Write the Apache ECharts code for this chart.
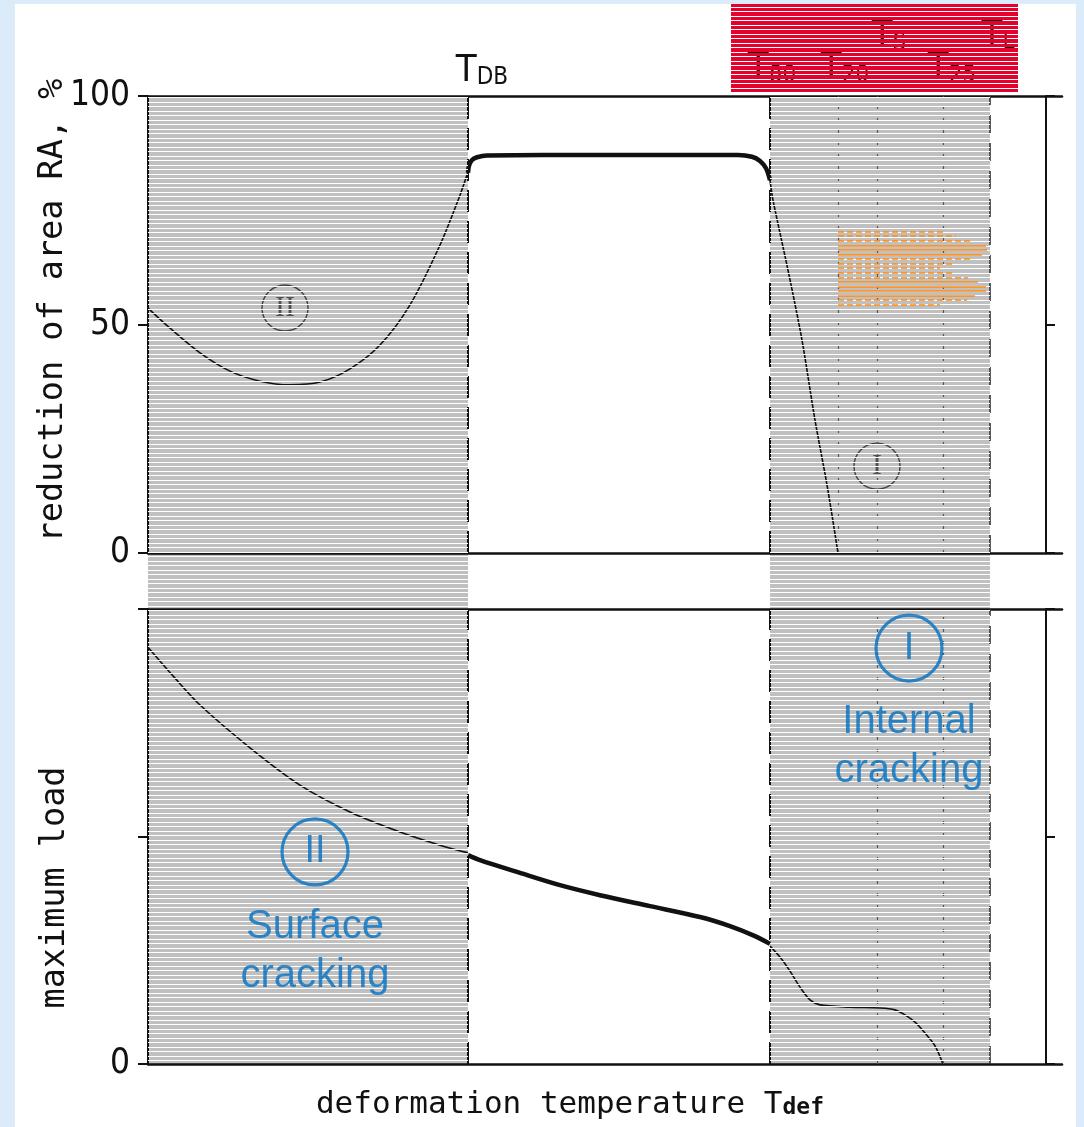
<!DOCTYPE html>
<html>
<head>
<meta charset="utf-8">
<script src="https://cdn.jsdelivr.net/npm/echarts/dist/echarts.min.js"></script>
<style>
  html, body { margin: 0; padding: 0; background: #dcebfa; }
  #sheet { position: absolute; left: 15px; top: 4px; width: 1061px; height: 1123px; background: #ffffff; }
  #chart { position: absolute; left: 0; top: 0; width: 1084px; height: 1127px; }
</style>
</head>
<body>
<div id="sheet"></div>
<div id="chart"></div>
<script>
// ---- data -----------------------------------------------------------------
// x runs along the deformation temperature (arbitrary units, 0..914)
const X_MAX = 914;

// characteristic temperatures marked by vertical lines
const tempNames = ['DB', '80', '20', 'S', '25', 'L'];
const tempX = [320, 622, 690, 729, 795, 842];

// temperature ranges of the two cracking modes (shaded)
const crackZones = [[0, 320], [622, 842]];

// reduction of area RA, % (upper panel)
const raSurface = [[0, 53.6], [22, 49.2], [52, 43.8], [82, 39.8], [112, 37.6], [142, 36.8],
  [172, 37.4], [202, 40.3], [232, 45.5], [262, 54.3], [292, 67.4], [312, 78.3], [320, 83.4]];
const raDuctile = [[320, 83.2], [321, 84.7], [324, 86.0], [329, 86.6], [339, 87.0], [450, 87.1],
  [590, 87.1], [604, 86.7], [612, 85.8], [618, 84.2], [622, 81.6]];
const raInternal = [[622, 81.6], [625, 77.2], [640, 61.9], [654, 46.6], [667, 29.1], [679, 14.9], [690, 0]];
const raTicks = [0, 50, 100];

// maximum load (lower panel, relative)
const loadSurface = [[0, 91.6], [27, 84.8], [52, 78.9], [102, 69.5], [152, 61.3], [202, 55.4],
  [252, 51.0], [292, 48.1], [320, 46.4]];
const loadDuctile = [[320, 45.9], [332, 44.8], [372, 42.0], [412, 39.3], [452, 37.1], [502, 34.7],
  [552, 32.3], [582, 30.3], [607, 28.1], [622, 26.4]];
const loadInternal = [[622, 25.9], [632, 23.5], [642, 20.4], [652, 16.9], [662, 14.1], [672, 13.0],
  [702, 12.5], [732, 12.3], [747, 11.9], [757, 10.8], [767, 9.2], [777, 6.8], [787, 4.0], [795, 0]];

// circled mode numbers in the RA panel: [x, RA, numeral]
const raModeMarks = [[137, 53.6, 'II'], [729, 19.0, 'I']];

// arrow made of hatch rows: [RA level, end x, solid?]
const arrowStartX = 690;
const arrowRows = [
  [70.2, 795, 0], [69.4, 808, 0], [68.3, 822, 0], [67.2, 838, 1], [66.3, 839, 1], [65.2, 834, 1],
  [64.3, 822, 0], [63.2, 807, 0], [62.4, 792, 0],
  [61.3, 807, 0], [60.2, 820, 0], [59.3, 830, 1], [58.2, 838, 1], [57.3, 838, 1], [56.2, 827, 1],
  [55.4, 819, 0], [54.3, 792, 0]
];

// annotations in the load panel: [x, load, text]
const loadModeCircles = [[761, 91.4, 'I'], [167, 46.6, 'II']];
const loadModeTexts = [[761, 69.8, 'Internal\ncracking'], [167, 24.8, 'Surface\ncracking']];

// ---- styles ---------------------------------------------------------------
const INK = '#111111';
const BLUE = '#006fc0';
const MONO = '"DejaVu Sans Mono", monospace';
const COND = '"DejaVu Sans Condensed", "Liberation Sans Narrow", "DejaVu Sans", sans-serif';
const SANS = '"Liberation Sans", Arial, sans-serif';

// horizontal ruling: rows of one colour with thin gaps every ~4.5 px
function ruling(rowColor, gapColor) {
  const c = document.createElement('canvas');
  c.width = 8; c.height = 9;
  const g = c.getContext('2d');
  if (rowColor) { g.fillStyle = rowColor; g.fillRect(0, 0, 8, 9); }
  if (gapColor) {
    g.fillStyle = gapColor; g.fillRect(0, 3, 8, 1); g.fillRect(0, 7, 8, 1);
  } else {
    g.clearRect(0, 3, 8, 1); g.clearRect(0, 7, 8, 1);
  }
  return { image: c, repeat: 'repeat' };
}
const whiteRules = ruling(null, '#ffffff');
const redRules = ruling('#e3022c', null);

const frameLine = { show: true, onZero: false, lineStyle: { color: INK, width: 2.5 } };

function xFrame(grid, pos, extra) {
  return Object.assign({
    gridIndex: grid, type: 'value', min: 0, max: X_MAX, position: pos,
    axisLine: frameLine, axisTick: { show: false }, axisLabel: { show: false },
    splitLine: { show: false }, z: 2
  }, extra || {});
}
function yLeft(grid, labelFn, extra) {
  return Object.assign({
    gridIndex: grid, type: 'value', min: 0, max: 100, interval: 50, position: 'left',
    axisLine: { show: true, onZero: false, lineStyle: { color: INK, width: 2 } },
    axisTick: { show: true, length: 10, lineStyle: { color: INK, width: 2 } },
    axisLabel: { show: true, formatter: labelFn, color: INK, fontSize: 35, fontFamily: COND, margin: 18 },
    splitLine: { show: false }, z: 2,
    nameLocation: 'middle', nameRotate: 90, nameMoveOverlap: false
  }, extra || {});
}
function yRight(grid) {
  return {
    gridIndex: grid, type: 'value', min: 0, max: 100, interval: 50, position: 'right', offset: -16,
    axisLine: { show: true, onZero: false, lineStyle: { color: INK, width: 2 } },
    axisTick: { show: true, length: 9, lineStyle: { color: INK, width: 2 } },
    axisLabel: { show: false }, splitLine: { show: false }, z: 2
  };
}

function curve(data, xi, yi, width) {
  return {
    type: 'line', xAxisIndex: xi, yAxisIndex: yi, data: data, showSymbol: false, smooth: 0.3,
    lineStyle: { color: INK, width: width }, z: 3, silent: true, clip: false
  };
}

// vertical temperature lines: dash style and label placement per line
const tempLineStyle = [
  { type: [22, 9], width: 2, color: INK },
  { type: [22, 9], width: 2, color: INK },
  { type: [3, 9], width: 1.2, color: '#555' },
  { type: [3, 9], width: 1.2, color: '#555' },
  { type: [3, 9], width: 1.2, color: '#555' },
  { type: [18, 10], width: 1.6, color: '#333' }
];
const tempLabelPos = [[14, 6], [2, 8], [7, 8], [12, 40], [9, 8], [8, 42]];
const tempInBottom = [true, true, false, true, true, true];

const subRich = {
  t: { fontSize: 38, fontFamily: COND, color: INK, verticalAlign: 'bottom', lineHeight: 42 },
  s: { fontSize: 24, fontFamily: COND, color: INK, verticalAlign: 'bottom', lineHeight: 36 }
};

function tempMarkLine(withLabels) {
  const data = [];
  tempX.forEach((x, i) => {
    if (!withLabels && !tempInBottom[i]) return;
    data.push({
      xAxis: x,
      lineStyle: tempLineStyle[i],
      label: withLabels ? {
        show: true, position: 'end', formatter: '{t|T}{s|' + tempNames[i] + '}',
        distance: tempLabelPos[i][1], offset: [tempLabelPos[i][0], 0], rich: subRich
      } : { show: false }
    });
  });
  return { symbol: 'none', silent: true, animation: false, data: data };
}

function zoneRenderer(fill) {
  return function (params, api) {
    const a = api.coord([api.value(0), api.value(3)]);
    const b = api.coord([api.value(1), api.value(2)]);
    return {
      type: 'rect',
      shape: { x: a[0], y: a[1], width: b[0] - a[0], height: b[1] - a[1] },
      style: { fill: fill }
    };
  };
}
const zoneData = crackZones.map(z => [z[0], z[1], 0, 1]);

const chart = echarts.init(document.getElementById('chart'), null, { renderer: 'canvas' });

chart.setOption({
  animation: false,
  backgroundColor: 'transparent',
  textStyle: { fontFamily: MONO },
  grid: [
    { left: 148, top: 96, width: X_MAX, height: 457, outerBoundsMode: 'none', containLabel: false },
    { left: 148, top: 609, width: X_MAX, height: 455, outerBoundsMode: 'none', containLabel: false },
    { left: 148, top: 96, width: X_MAX, height: 968, outerBoundsMode: 'none', containLabel: false }
  ],
  xAxis: [
    xFrame(0, 'bottom'),
    xFrame(0, 'top'),
    xFrame(1, 'bottom', {
      name: '{a|deformation temperature T}{b|def}',
      nameLocation: 'middle', nameGap: 20, nameMoveOverlap: false,
      nameTextStyle: {
        padding: [0, 70, 0, 0],
        rich: {
          a: { fontSize: 31, fontFamily: MONO, color: INK, verticalAlign: 'bottom', lineHeight: 36 },
          b: { fontSize: 23, fontFamily: MONO, fontWeight: 'bold', color: INK, verticalAlign: 'bottom', lineHeight: 26 }
        }
      }
    }),
    xFrame(1, 'top'),
    { gridIndex: 2, type: 'value', min: 0, max: X_MAX, show: false }
  ],
  yAxis: [
    yLeft(0, v => String(v), {
      name: 'reduction of area RA, %', nameGap: 78,
      nameTextStyle: { fontSize: 33.5, fontFamily: MONO, color: INK, padding: [0, 0, 0, 28] }
    }),
    yRight(0),
    yLeft(1, v => (v === 0 ? '0' : ''), {
      name: 'maximum load', nameGap: 76,
      nameTextStyle: { fontSize: 33.5, fontFamily: MONO, color: INK, padding: [0, 102, 0, 0] }
    }),
    yRight(1),
    { gridIndex: 2, type: 'value', min: 0, max: 1, show: false }
  ],
  series: [
    // grey shading of the cracking ranges
    {
      type: 'custom', xAxisIndex: 4, yAxisIndex: 4, data: zoneData, encode: { x: [0, 1], y: [2, 3] },
      renderItem: zoneRenderer('#c0c0c0'), z: 1, silent: true
    },
    curve(raSurface, 0, 0, 1.6),
    curve(raDuctile, 0, 0, 4.5),
    curve(raInternal, 0, 0, 1.6),
    curve(loadSurface, 2, 2, 1.6),
    curve(loadDuctile, 2, 2, 4.5),
    curve(loadInternal, 2, 2, 1.6),
    { type: 'line', xAxisIndex: 0, yAxisIndex: 0, data: [], z: 4, markLine: tempMarkLine(true) },
    { type: 'line', xAxisIndex: 2, yAxisIndex: 2, data: [], z: 4, markLine: tempMarkLine(false) },
    // circled mode numbers in the RA panel
    {
      type: 'scatter', xAxisIndex: 0, yAxisIndex: 0, silent: true, z: 3,
      symbol: 'circle', symbolSize: 46,
      itemStyle: { color: 'rgba(0,0,0,0)', borderColor: '#222', borderWidth: 1.4 },
      label: {
        show: true, position: 'inside', formatter: p => p.value[2],
        fontFamily: '"Liberation Serif", "DejaVu Serif", serif', fontSize: 30, color: '#333'
      },
      data: raModeMarks
    },
    // white ruling over the shaded ranges
    {
      type: 'custom', xAxisIndex: 4, yAxisIndex: 4, data: zoneData, encode: { x: [0, 1], y: [2, 3] },
      renderItem: zoneRenderer(whiteRules), z: 6, silent: true
    },
    // arrow drawn with orange hatch rows
    {
      type: 'lines', coordinateSystem: 'cartesian2d', xAxisIndex: 0, yAxisIndex: 0, silent: true, z: 7,
      lineStyle: { color: '#ff8a10', width: 1.6, opacity: 1, curveness: 0 },
      data: arrowRows.map(r => ({
        coords: [[arrowStartX, r[0]], [r[1], r[0]]],
        lineStyle: { type: r[2] ? 'solid' : [6, 3] }
      }))
    },
    // blue mode annotations in the load panel
    {
      type: 'scatter', xAxisIndex: 2, yAxisIndex: 2, silent: true, z: 8,
      symbol: 'circle', symbolSize: 66,
      itemStyle: { color: 'rgba(0,0,0,0)', borderColor: BLUE, borderWidth: 3.2 },
      label: { show: true, position: 'inside', formatter: p => p.value[2], fontFamily: SANS, fontSize: 38, color: BLUE },
      data: loadModeCircles
    },
    {
      type: 'scatter', xAxisIndex: 2, yAxisIndex: 2, silent: true, z: 8,
      symbol: 'circle', symbolSize: 1, itemStyle: { color: 'rgba(0,0,0,0)' },
      label: {
        show: true, position: 'inside', formatter: p => p.value[2],
        fontFamily: SANS, fontSize: 40, lineHeight: 49, color: BLUE, align: 'center'
      },
      data: loadModeTexts
    }
  ],
  graphic: [
    {
      type: 'rect', x: 731, y: 4, z: 100, silent: true,
      shape: { width: 287, height: 89 },
      style: { fill: redRules }
    }
  ]
});
</script>
</body>
</html>
